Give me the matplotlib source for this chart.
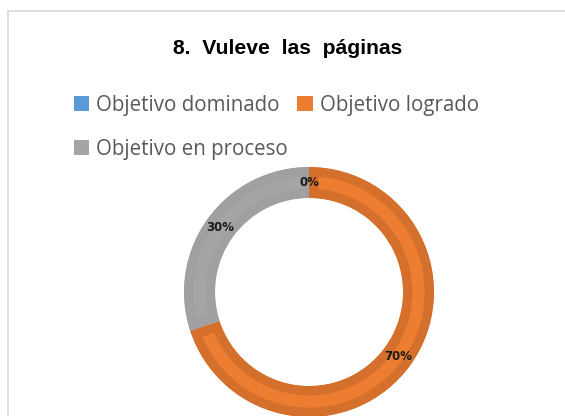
import matplotlib.pyplot as plt
from matplotlib.patches import Rectangle, Patch

# ================= DATA =================

title = "8.  Vuleve  las  páginas"
categories = ["Objetivo dominado", "Objetivo logrado", "Objetivo en proceso"]
values = [0, 70, 30]
fill_colors = ["#5B9BD5", "#ED7D31", "#A5A5A5"]
edge_colors = ["#4A86C0", "#D5702C", "#A0A0A0"]

# ================= FIGURE =================

fig = plt.figure(figsize=(5.65, 4.16), dpi=100)
W, H = 565, 416

# light frame around the chart area
fig.patches.append(Rectangle((8 / W, -0.2), 1.2, 1 - 11 / H + 0.2,
                             transform=fig.transFigure, fill=False,
                             edgecolor="#D9D9D9", linewidth=1.2))

fig.text(288 / W, 1 - 48 / H, title, ha="center", va="center",
         fontsize=15.2, fontweight="bold", family="Liberation Sans", color="#000000")

# doughnut
cx, cy, r = 309, 292, 125
ax = fig.add_axes([(cx - r) / W, (H - cy - r) / H, 2 * r / W, 2 * r / H])
wedges, texts, autotexts = ax.pie(
    values, colors=fill_colors, startangle=90, counterclock=False,
    radius=1, wedgeprops=dict(width=31 / 125, linewidth=13.5),
    autopct="%.0f%%", pctdistance=110 / 125,
    textprops=dict(fontsize=8.5, fontweight="bold", color="#1a1a1a"))
for w, ec in zip(wedges, edge_colors):
    w.set_edgecolor(ec)
    w.set_clip_on(True)
    w.set_clip_path(w)
ax.set_xlim(-1, 1)
ax.set_ylim(-1, 1)
ax.axis("off")

# legend (second row wraps like the original)
handles = [Patch(facecolor=c, edgecolor="none") for c in fill_colors]
order = [0, 2, 1]
leg = fig.legend([handles[i] for i in order], [categories[i] for i in order],
                 ncol=2, loc="upper left", bbox_to_anchor=(55 / W, 1 - 76 / H),
                 frameon=False, handlelength=0.75, handleheight=0.75,
                 handletextpad=0.35, columnspacing=0.45, labelspacing=1.15,
                 prop=dict(family="Open Sans", size=14.8))
for t in leg.get_texts():
    t.set_color("#595959")

fig.savefig("out.png", dpi=100)
